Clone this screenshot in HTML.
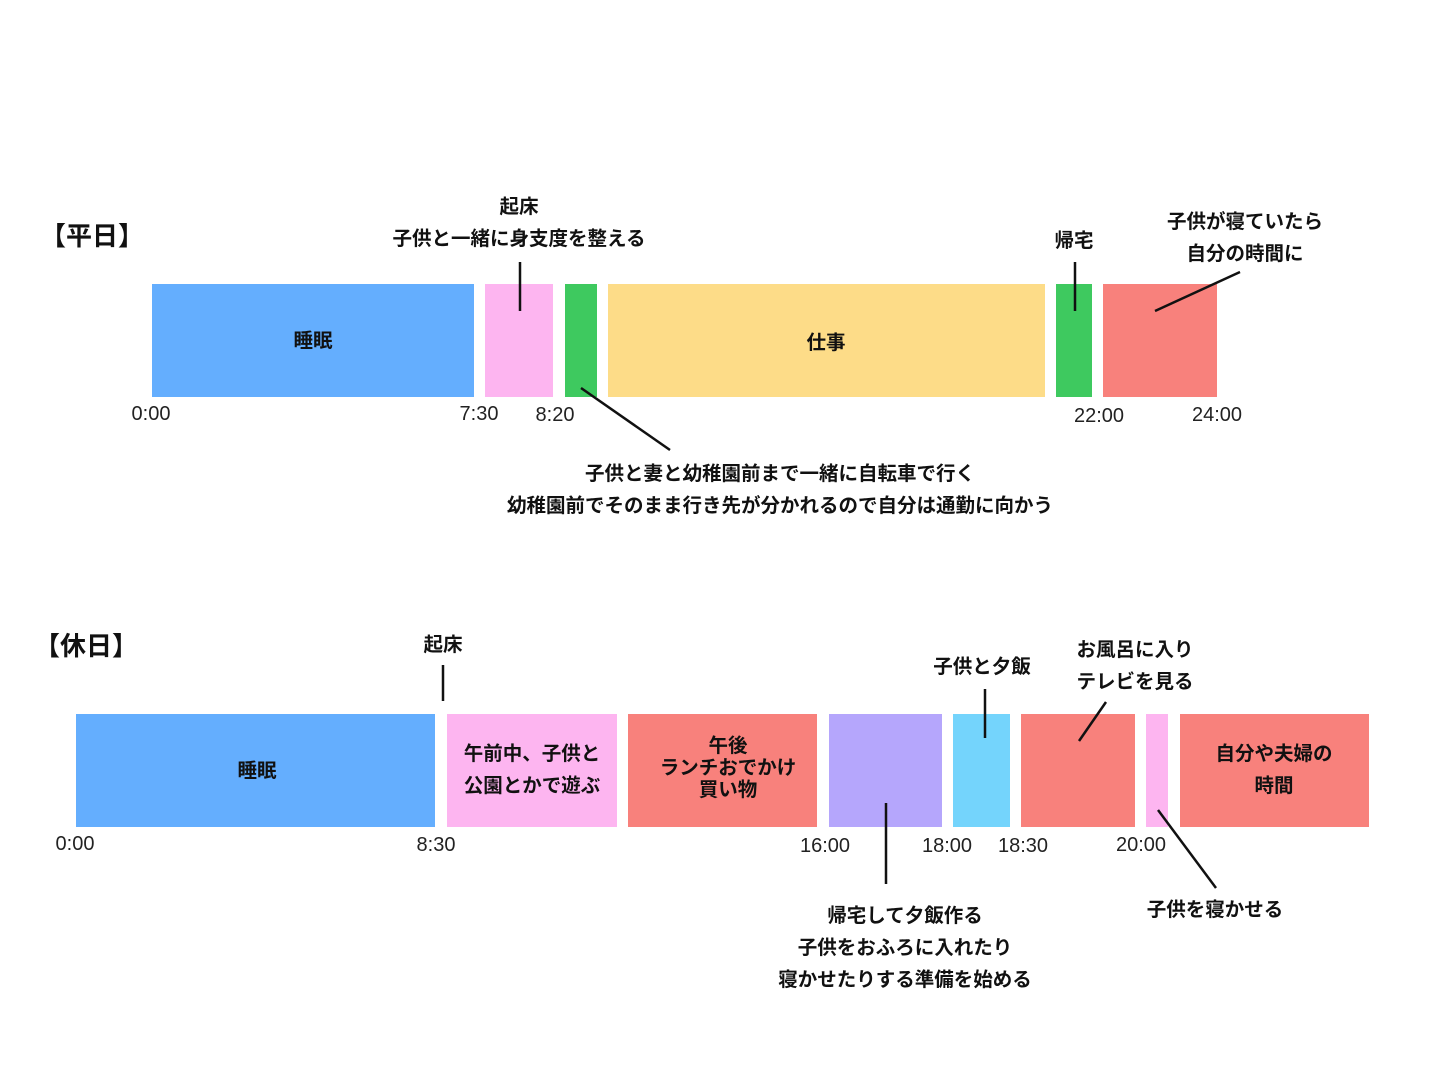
<!DOCTYPE html>
<html><head><meta charset="utf-8"><style>
body{margin:0;width:1440px;height:1081px;background:#fff;position:relative;overflow:hidden;font-family:"Liberation Sans","Noto Sans CJK JP",sans-serif;}
.b{position:absolute;}
.t{position:absolute;font-weight:bold;font-size:19.5px;color:#111;white-space:nowrap;text-align:center;line-height:32px;transform:translateX(-50%);}
.a{position:absolute;font-size:20px;color:#222;white-space:nowrap;transform:translateX(-50%);}
.h{position:absolute;font-weight:bold;font-size:26px;color:#111;}
svg{position:absolute;left:0;top:0;}
</style></head><body>
<div class="h" style="left:40px;top:216px">【平日】</div>
<div class="h" style="left:34px;top:626px">【休日】</div>

<div class="b" style="left:152px;top:284px;width:322px;height:113px;background:#64aefe"></div>
<div class="b" style="left:485px;top:284px;width:68px;height:113px;background:#fdb5f0"></div>
<div class="b" style="left:565px;top:284px;width:32px;height:113px;background:#3ec95f"></div>
<div class="b" style="left:608px;top:284px;width:437px;height:113px;background:#fddc88"></div>
<div class="b" style="left:1056px;top:284px;width:36px;height:113px;background:#3ec95f"></div>
<div class="b" style="left:1103px;top:284px;width:114px;height:113px;background:#f8817c"></div>

<div class="b" style="left:76px;top:714px;width:359px;height:113px;background:#64aefe"></div>
<div class="b" style="left:447px;top:714px;width:170px;height:113px;background:#fdb5f0"></div>
<div class="b" style="left:628px;top:714px;width:189px;height:113px;background:#f8817c"></div>
<div class="b" style="left:829px;top:714px;width:113px;height:113px;background:#b5a6fc"></div>
<div class="b" style="left:953px;top:714px;width:57px;height:113px;background:#74d4fc"></div>
<div class="b" style="left:1021px;top:714px;width:114px;height:113px;background:#f8817c"></div>
<div class="b" style="left:1146px;top:714px;width:22px;height:113px;background:#fdb5f0"></div>
<div class="b" style="left:1180px;top:714px;width:189px;height:113px;background:#f8817c"></div>

<svg width="1440" height="1081" stroke="#111" stroke-width="2.5">
<line x1="520" y1="262" x2="520" y2="311"/>
<line x1="581" y1="388" x2="670" y2="450"/>
<line x1="1075" y1="262" x2="1075" y2="311"/>
<line x1="1155" y1="311" x2="1240" y2="272"/>
<line x1="443" y1="665" x2="443" y2="701"/>
<line x1="985" y1="689" x2="985" y2="738"/>
<line x1="1106" y1="702" x2="1079" y2="741"/>
<line x1="886" y1="803" x2="886" y2="884"/>
<line x1="1158" y1="810" x2="1216" y2="888"/>
</svg>

<div class="t" style="left:313px;top:325px">睡眠</div>
<div class="t" style="left:826px;top:327px">仕事</div>
<div class="t" style="left:519px;top:191px">起床<br>子供と一緒に身支度を整える</div>
<div class="t" style="left:1074px;top:225px">帰宅</div>
<div class="t" style="left:1245px;top:206px">子供が寝ていたら<br>自分の時間に</div>
<div class="t" style="left:780px;top:458px">子供と妻と幼稚園前まで一緒に自転車で行く<br>幼稚園前でそのまま行き先が分かれるので自分は通勤に向かう</div>
<div class="a" style="left:151px;top:403px">0:00</div>
<div class="a" style="left:479px;top:403px">7:30</div>
<div class="a" style="left:555px;top:404px">8:20</div>
<div class="a" style="left:1099px;top:405px">22:00</div>
<div class="a" style="left:1217px;top:404px">24:00</div>

<div class="t" style="left:257px;top:755px">睡眠</div>
<div class="t" style="left:532px;top:738px">午前中、子供と<br>公園とかで遊ぶ</div>
<div class="t" style="left:728px;top:735px;line-height:22px">午後<br>ランチおでかけ<br>買い物</div>
<div class="t" style="left:1274px;top:738px">自分や夫婦の<br>時間</div>
<div class="t" style="left:443px;top:629px">起床</div>
<div class="t" style="left:982px;top:651px">子供と夕飯</div>
<div class="t" style="left:1135px;top:634px">お風呂に入り<br>テレビを見る</div>
<div class="t" style="left:905px;top:900px">帰宅して夕飯作る<br>子供をおふろに入れたり<br>寝かせたりする準備を始める</div>
<div class="t" style="left:1215px;top:894px">子供を寝かせる</div>
<div class="a" style="left:75px;top:833px">0:00</div>
<div class="a" style="left:436px;top:834px">8:30</div>
<div class="a" style="left:825px;top:835px">16:00</div>
<div class="a" style="left:947px;top:835px">18:00</div>
<div class="a" style="left:1023px;top:835px">18:30</div>
<div class="a" style="left:1141px;top:834px">20:00</div>
</body></html>
